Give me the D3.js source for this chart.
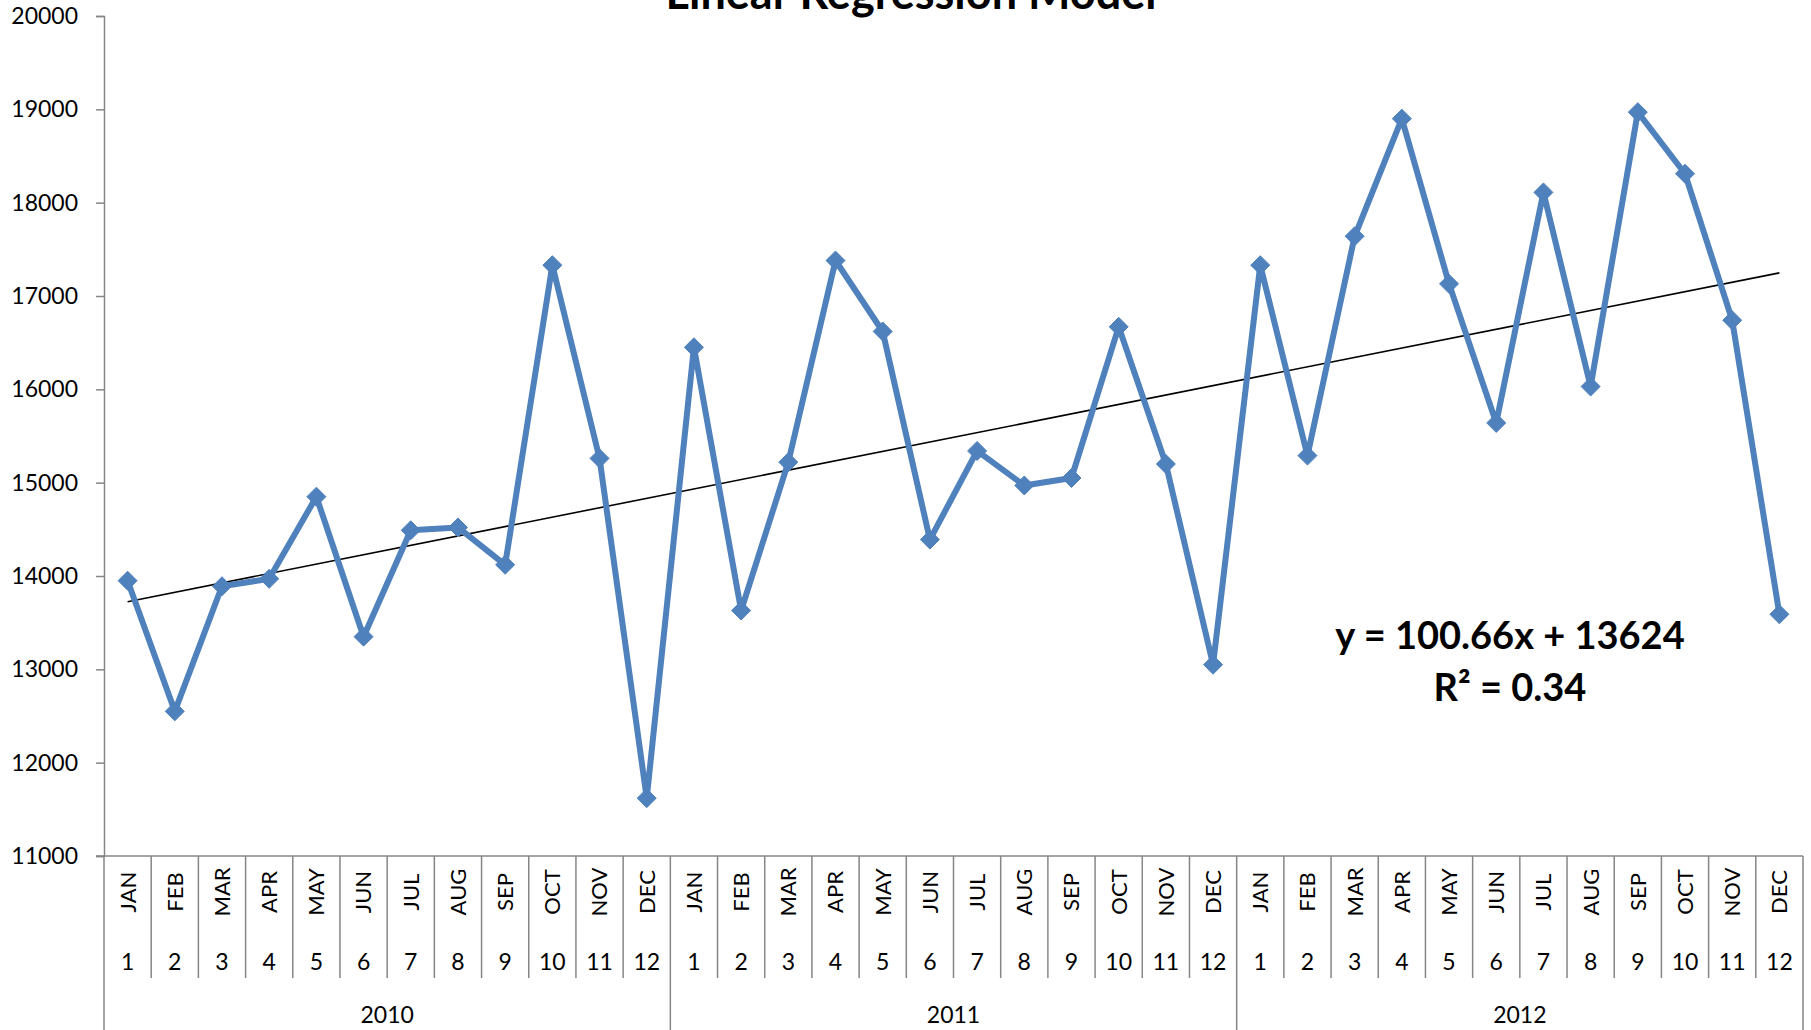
<!DOCTYPE html>
<html>
<head>
<meta charset="utf-8">
<script src="https://cdn.jsdelivr.net/npm/d3@7"></script>
<style>
  html, body { margin: 0; padding: 0; background: #ffffff; }
  svg { display: block; }
  text { font-family: Lato, "Open Sans", "DejaVu Sans", sans-serif; fill: #000; }
</style>
</head>
<body>
<svg id="chart" width="1811" height="1030"></svg>
<script>
// ---- data ----
const title = "Linear Regression Model";
const years = ["2010", "2011", "2012"];
const months = ["JAN", "FEB", "MAR", "APR", "MAY", "JUN", "JUL", "AUG", "SEP", "OCT", "NOV", "DEC"];
const monthNumbers = ["1", "2", "3", "4", "5", "6", "7", "8", "9", "10", "11", "12"];
const values2010 = [13950, 12550, 13890, 13970, 14850, 13350, 14490, 14520, 14120, 17330, 15260, 11620];
const values2011 = [16450, 13630, 15220, 17380, 16620, 14390, 15340, 14970, 15050, 16670, 15200, 13050];
const values2012 = [17330, 15290, 17640, 18900, 17130, 15640, 18110, 16030, 18970, 18310, 16740, 13590];
const yTicks = [11000, 12000, 13000, 14000, 15000, 16000, 17000, 18000, 19000, 20000];
const trendSlope = 100.66;
const trendIntercept = 13624;
const equationLabel = "y = 100.66x + 13624";
const rSquaredLabel = "R² = 0.34";

(function () {
  const series = [values2010, values2011, values2012];
  const points = [];
  series.forEach((vals, yi) => vals.forEach((v, mi) => points.push({ idx: yi * 12 + mi, year: yi, month: mi, value: v })));

  const svg = d3.select("#chart");
  const W = 1811, H = 1030;
  svg.append("rect").attr("width", W).attr("height", H).attr("fill", "#fff");

  const pLeft = 104, pRight = 1803, pTop = 16, pBottom = 856;
  const x = d3.scaleBand().domain(d3.range(points.length)).range([pLeft, pRight]).paddingInner(0).paddingOuter(0);
  const y = d3.scaleLinear().domain([yTicks[0], yTicks[yTicks.length - 1]]).range([pBottom, pTop]);
  const cx = i => x(i) + x.bandwidth() / 2;
  const axisColor = "#868686";

  // y axis
  const yAxis = svg.append("g").attr("transform", `translate(${pLeft},0)`)
    .call(d3.axisLeft(y).tickValues(yTicks).tickSize(8).tickPadding(18).tickFormat(d3.format("d")));
  yAxis.select(".domain").attr("stroke", axisColor).attr("stroke-width", 1.5);
  yAxis.selectAll(".tick line").attr("stroke", axisColor).attr("stroke-width", 1.5);
  yAxis.selectAll(".tick text").attr("font-size", 23).attr("font-family", "Lato").attr("fill", "#000");

  // x axis line
  svg.append("line").attr("x1", pLeft - 8).attr("x2", pRight).attr("y1", pBottom).attr("y2", pBottom)
    .attr("stroke", axisColor).attr("stroke-width", 1.5);

  // category separators
  const boundaries = d3.range(points.length + 1);
  svg.append("g").selectAll("line").data(boundaries).join("line")
    .attr("x1", i => i < points.length ? x(i) : pRight)
    .attr("x2", i => i < points.length ? x(i) : pRight)
    .attr("y1", pBottom)
    .attr("y2", i => (i % 12 === 0) ? H : 978)
    .attr("stroke", axisColor).attr("stroke-width", 1.5);

  // month labels (rotated)
  svg.append("g").selectAll("text").data(points).join("text")
    .attr("transform", d => `translate(${cx(d.idx)},892) rotate(-90)`)
    .attr("text-anchor", "middle").attr("dy", "0.36em")
    .attr("font-size", 22)
    .text(d => months[d.month]);

  // month numbers
  svg.append("g").selectAll("text").data(points).join("text")
    .attr("x", d => cx(d.idx)).attr("y", 970)
    .attr("text-anchor", "middle").attr("font-size", 23)
    .text(d => monthNumbers[d.month]);

  // year labels
  svg.append("g").selectAll("text").data(years).join("text")
    .attr("x", (d, i) => (x(i * 12) + (i === years.length - 1 ? pRight : x((i + 1) * 12))) / 2)
    .attr("y", 1023).attr("text-anchor", "middle").attr("font-size", 23)
    .text(d => d);

  // trend line
  const n = points.length;
  svg.append("line")
    .attr("x1", cx(0)).attr("y1", y(trendSlope * 1 + trendIntercept))
    .attr("x2", cx(n - 1)).attr("y2", y(trendSlope * n + trendIntercept))
    .attr("stroke", "#000").attr("stroke-width", 1.6);

  // data line
  const blue = "#4F81BD";
  svg.append("path").datum(points)
    .attr("d", d3.line().x(d => cx(d.idx)).y(d => y(d.value)))
    .attr("fill", "none").attr("stroke", blue).attr("stroke-width", 6).attr("stroke-linejoin", "round");

  // diamond markers
  const r = 9.5;
  svg.append("g").selectAll("path").data(points).join("path")
    .attr("d", d => { const px = cx(d.idx), py = y(d.value); return `M${px},${py - r}L${px + r},${py}L${px},${py + r}L${px - r},${py}Z`; })
    .attr("fill", blue).attr("stroke", blue).attr("stroke-width", 1);

  // equation
  svg.append("text").attr("x", 1510).attr("y", 649).attr("text-anchor", "middle")
    .attr("font-size", 38).attr("font-weight", "bold").text(equationLabel);
  svg.append("text").attr("x", 1510).attr("y", 701).attr("text-anchor", "middle")
    .attr("font-size", 38).attr("font-weight", "bold").text(rSquaredLabel);

  // title (partly above the top edge, as in the reference)
  svg.append("text").attr("x", 911).attr("y", 9).attr("text-anchor", "middle")
    .attr("font-size", 45).attr("font-weight", "bold").text(title);
})();
</script>
</body>
</html>
